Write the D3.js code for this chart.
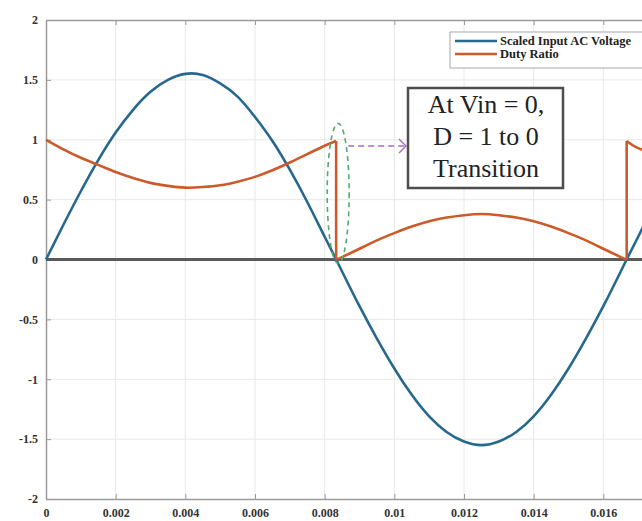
<!DOCTYPE html>
<html>
<head>
<meta charset="utf-8">
<script src="https://cdn.jsdelivr.net/npm/d3@7"></script>
<style>
  body { margin: 0; background: #fff; }
</style>
</head>
<body>
<div id="chart"></div>
<script>
// values
const voltTime = [0, 0.0005, 0.001, 0.0015, 0.002, 0.0025, 0.003, 0.0035, 0.004, 0.0045, 0.005, 0.0055, 0.006, 0.0065, 0.007, 0.0075, 0.008, 0.00833,
  0.0085, 0.009, 0.0095, 0.01, 0.0105, 0.011, 0.0115, 0.012, 0.0125, 0.013, 0.0135, 0.014, 0.0145, 0.015, 0.0155, 0.016, 0.0165, 0.01667, 0.017, 0.0175, 0.018]
const voltage = [0, 0.29, 0.57, 0.83, 1.06, 1.25, 1.40, 1.50, 1.55, 1.54, 1.47, 1.36, 1.19, 0.99, 0.75, 0.48, 0.19, 0,
  -0.10, -0.39, -0.66, -0.91, -1.13, -1.31, -1.44, -1.52, -1.55, -1.52, -1.44, -1.31, -1.13, -0.91, -0.66, -0.39, -0.10, 0, 0.19, 0.48, 0.75]

const dutyTime = [0, 0.0005, 0.001, 0.0015, 0.002, 0.0025, 0.003, 0.0035, 0.004, 0.0045, 0.005, 0.0055, 0.006, 0.0065, 0.007, 0.0075, 0.008, 0.00833,
  0.00833, 0.0085, 0.009, 0.0095, 0.01, 0.0105, 0.011, 0.0115, 0.012, 0.0125, 0.013, 0.0135, 0.014, 0.0145, 0.015, 0.0155, 0.016, 0.0165, 0.01667,
  0.01667, 0.017, 0.0175, 0.018]
const duty = [1.00, 0.92, 0.85, 0.79, 0.73, 0.68, 0.64, 0.615, 0.60, 0.605, 0.62, 0.65, 0.69, 0.745, 0.81, 0.88, 0.95, 0.99,
  0, 0.02, 0.09, 0.16, 0.22, 0.275, 0.32, 0.35, 0.37, 0.38, 0.37, 0.35, 0.32, 0.275, 0.22, 0.16, 0.09, 0.02, 0,
  0.99, 0.93, 0.88, 0.81]

const xTicks = [0, 0.002, 0.004, 0.006, 0.008, 0.01, 0.012, 0.014, 0.016]
const yTicks = [-2, -1.5, -1, -0.5, 0, 0.5, 1, 1.5, 2]
const seriesNames = ['Scaled Input AC Voltage', 'Duty Ratio']
const noteLines = ['At Vin = 0,', 'D = 1 to 0', 'Transition']

const WIDTH = 642
const HEIGHT = 521
const LEFT = 46
const TOP = 20
const BOTTOM = 499
const RIGHT = 673 // the box goes past the picture edge
const BLUE = '#27688f'
const ORANGE = '#cc5a2a'
const SERIF = '"Liberation Serif", "Times New Roman", serif'

const svg = d3.select('#chart').append('svg').attr('width', WIDTH).attr('height', HEIGHT)

const x = d3.scaleLinear().domain([0, 0.018]).range([LEFT, RIGHT])
const y = d3.scaleLinear().domain([-2, 2]).range([BOTTOM, TOP])

// grille
svg.append('g').selectAll('line').data(xTicks.slice(1)).enter().append('line')
  .attr('x1', d => x(d)).attr('x2', d => x(d)).attr('y1', TOP).attr('y2', BOTTOM)
  .attr('stroke', '#e8e8e8').attr('stroke-width', 1)
svg.append('g').selectAll('line').data(yTicks.slice(1, -1)).enter().append('line')
  .attr('x1', LEFT).attr('x2', RIGHT).attr('y1', d => y(d)).attr('y2', d => y(d))
  .attr('stroke', '#e8e8e8').attr('stroke-width', 1)

// axes (bottom, left, top)
const fmt = d => String(d)
const axisB = svg.append('g').attr('transform', `translate(0, ${BOTTOM})`)
  .call(d3.axisBottom(x).tickValues(xTicks).tickFormat(fmt).tickSizeInner(-5).tickSizeOuter(0).tickPadding(9))
const axisL = svg.append('g').attr('transform', `translate(${LEFT}, 0)`)
  .call(d3.axisLeft(y).tickValues(yTicks).tickFormat(fmt).tickSizeInner(-5).tickSizeOuter(0).tickPadding(8))
const axisT = svg.append('g').attr('transform', `translate(0, ${TOP})`)
  .call(d3.axisTop(x).tickValues(xTicks).tickFormat('').tickSizeInner(-5).tickSizeOuter(0))

for (const a of [axisB, axisL, axisT]) {
  a.select('.domain').attr('stroke', '#9a9a9a').attr('stroke-width', 1.5)
  a.selectAll('.tick line').attr('stroke', '#9a9a9a')
  a.selectAll('text').attr('font-family', SERIF).attr('font-weight', 'bold')
    .attr('font-size', 12).attr('fill', '#333')
}
axisB.selectAll('.tick').filter(d => d === 0).select('line').remove()

// ligne zero
svg.append('line')
  .attr('x1', x(0)).attr('x2', WIDTH).attr('y1', y(0)).attr('y2', y(0))
  .attr('stroke', '#5a5a5a').attr('stroke-width', 3)

const plot = svg.append('g')
const lineGen = d3.line().x(d => x(d[0])).y(d => y(d[1]))

// tension
const vPts = voltTime.map((t, i) => [t, voltage[i]])
plot.append('path')
  .attr('d', lineGen.curve(d3.curveNatural)(vPts))
  .attr('fill', 'none').attr('stroke', BLUE).attr('stroke-width', 2.6)

// rapport cyclique : on coupe aux sauts verticaux
const dPts = dutyTime.map((t, i) => [t, duty[i]])
const runs = [[dPts[0]]]
for (let i = 1; i < dPts.length; i++) {
  if (dPts[i][0] === dPts[i - 1][0]) {
    runs.push([dPts[i - 1], dPts[i]]) // saut
    runs.push([dPts[i]])
  } else runs[runs.length - 1].push(dPts[i])
}
plot.selectAll('path.duty').data(runs).enter().append('path')
  .attr('class', 'duty')
  .attr('d', r => lineGen.curve(r.length > 2 ? d3.curveNatural : d3.curveLinear)(r))
  .attr('fill', 'none').attr('stroke', ORANGE).attr('stroke-width', 2.6)

// ellipse + fleche
const tJump = dutyTime[17]
svg.append('ellipse')
  .attr('cx', x(tJump) + 2).attr('cy', (y(0) + y(1.12)) / 2 + 1).attr('rx', 11).attr('ry', (y(0) - y(1.12)) / 2 + 3)
  .attr('fill', 'none').attr('stroke', '#4fae6a').attr('stroke-width', 1.6).attr('stroke-dasharray', '5,4')
svg.append('line')
  .attr('x1', x(tJump) + 12).attr('x2', 405).attr('y1', 146).attr('y2', 146)
  .attr('stroke', '#a66bc0').attr('stroke-width', 1.6).attr('stroke-dasharray', '6,4')
svg.append('path')
  .attr('d', 'M399,139 L406,146 L399,153')
  .attr('fill', 'none').attr('stroke', '#a66bc0').attr('stroke-width', 1.4)

// boite de texte
svg.append('rect')
  .attr('x', 408).attr('y', 88).attr('width', 155).attr('height', 100)
  .attr('fill', '#fff').attr('stroke', '#4d4d4d').attr('stroke-width', 2.5)
svg.append('g').selectAll('text').data(noteLines).enter().append('text')
  .attr('x', 486).attr('y', (d, i) => 113 + i * 32)
  .attr('text-anchor', 'middle').attr('font-family', SERIF).attr('font-size', 26)
  .attr('fill', '#222').text(d => d)

// legende
const legend = svg.append('g')
legend.append('rect')
  .attr('x', 450).attr('y', 32).attr('width', 200).attr('height', 36)
  .attr('fill', '#fff').attr('stroke', '#a8a8a8').attr('stroke-width', 1)
legend.selectAll('line').data(seriesNames).enter().append('line')
  .attr('x1', 455).attr('x2', 497).attr('y1', (d, i) => 41 + i * 13).attr('y2', (d, i) => 41 + i * 13)
  .attr('stroke', (d, i) => i === 0 ? BLUE : ORANGE).attr('stroke-width', 2.5)
legend.selectAll('text').data(seriesNames).enter().append('text')
  .attr('x', 500).attr('y', (d, i) => 45 + i * 13)
  .attr('font-family', SERIF).attr('font-weight', 'bold').attr('font-size', 12.5)
  .attr('fill', '#222').text(d => d)
</script>
</body>
</html>
